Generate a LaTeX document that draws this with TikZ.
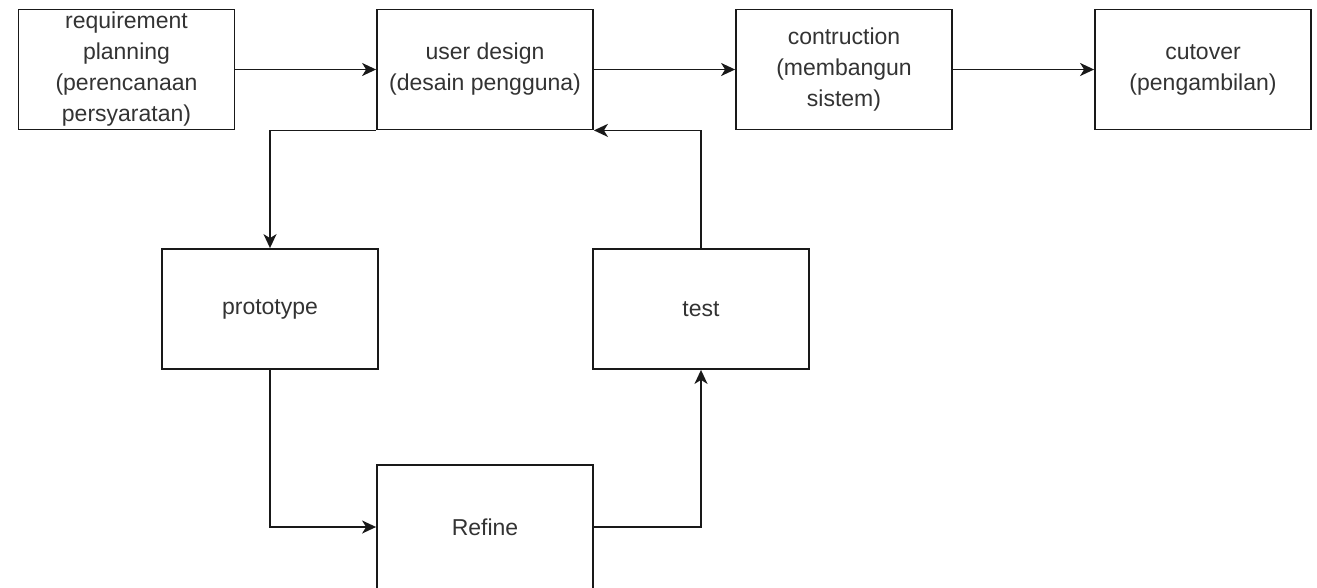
\documentclass[tikz,border=0pt]{standalone}
\usepackage{fontspec}
\setmainfont{Liberation Sans}
\usetikzlibrary{arrows.meta}
\begin{document}
\begin{tikzpicture}[x=1pt,y=-1pt,
  stepbox/.style={draw=black!90, line width=1.8pt, minimum width=216pt, minimum height=120pt,
    inner sep=0pt, align=center, text=black!80,
    font=\fontsize{23pt}{31pt}\selectfont},
  conn/.style={draw=black!90, line width=1.8pt, -{Stealth[length=14pt,width=13pt,inset=4pt]}}]
\useasboundingbox (0,0) rectangle (1317,587);
\node[stepbox] (rp) at (126.5,69.5) {requirement\\planning\\(perencanaan\\persyaratan)};
\node[stepbox] (ud) at (485,69.5) {user design\\(desain pengguna)};
\node[stepbox] (ct) at (844,69.5) {contruction\\(membangun\\sistem)};
\node[stepbox] (co) at (1203,69.5) {cutover\\(pengambilan)};
\node[stepbox] (pr) at (270,309) {prototype};
\node[stepbox] (ts) at (701,309) {test};
\node[stepbox, minimum height=124pt] (rf) at (485,527) {};
\node[text=black!80, font=\fontsize{23pt}{31pt}\selectfont] (rft) at (485,527) {Refine};
\draw[conn] (rp) -- (ud);
\draw[conn] (ud) -- (ct);
\draw[conn] (ct) -- (co);
\draw[conn] (ud.south west) -| (pr.north);
\draw[conn] (pr.south) |- (rf.west);
\draw[conn] (rf.east) -| (ts.south);
\draw[conn] (ts.north) |- (ud.south east);
\end{tikzpicture}
\end{document}
